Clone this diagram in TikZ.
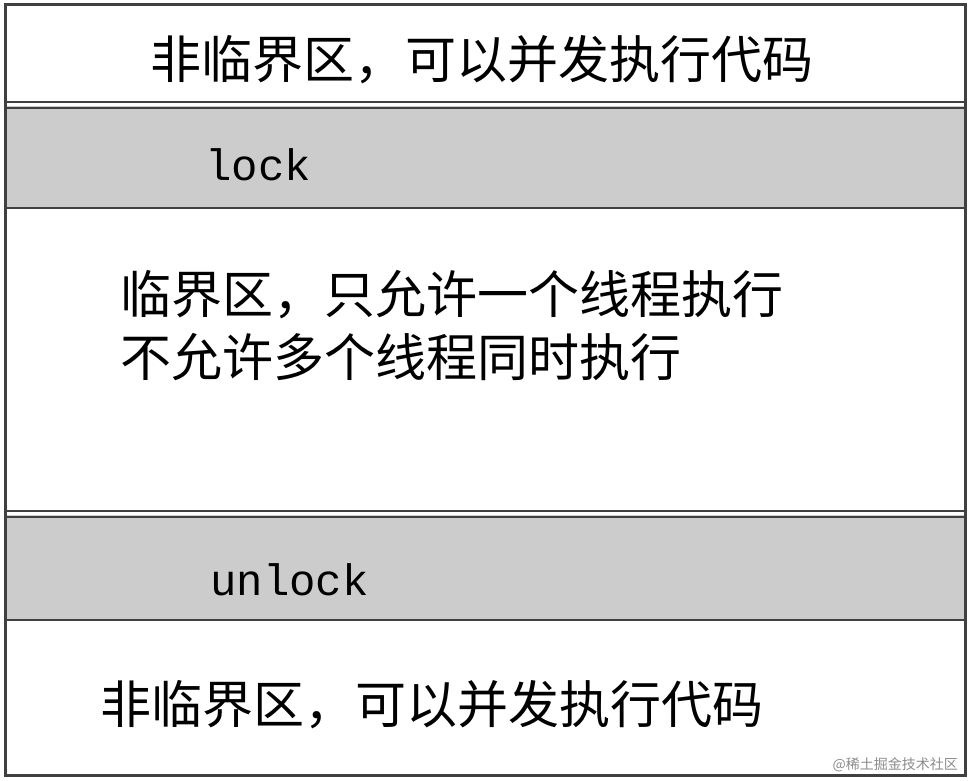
\documentclass[tikz,border=0pt]{standalone}
\usepackage{fontspec}
\newfontfamily\cjk{Noto Sans CJK SC}
\setmonofont{Liberation Mono}
\begin{document}
\begin{tikzpicture}[x=1pt,y=-1pt,
  band/.style={draw=black!75,line width=3pt},
  cn/.style={font=\cjk\fontsize{51}{60}\selectfont,anchor=west,inner sep=0},
  code/.style={font=\ttfamily\fontsize{44}{50}\selectfont,anchor=west,inner sep=0}]
\useasboundingbox (0,0) rectangle (971,781);
\fill[white] (0,0) rectangle (971,781);
\fill[black!20] (5,106) rectangle (965,208);
\fill[black!20] (5,515) rectangle (965,619);
\draw[band] (5,5) rectangle (965,775);
\foreach \y in {102,108,208,511,517,620}{\draw[black!75,line width=2.5pt] (5,\y) -- (965,\y);}
\node[cn] (t1) at (150,60) {非临界区，可以并发执行代码};
\node[code] (lk) at (205,165) {lock};
\node[cn] (c1) at (120,295) {临界区，只允许一个线程执行};
\node[cn] (c2) at (120,357) {不允许多个线程同时执行};
\node[code] (ul) at (210,580) {unlock};
\node[cn] (t2) at (100,705) {非临界区，可以并发执行代码};
\node[font=\cjk\fontsize{14}{16}\selectfont,text=black!45,anchor=east,inner sep=0] (wm) at (958,765) {@稀土掘金技术社区};
\end{tikzpicture}
\end{document}
